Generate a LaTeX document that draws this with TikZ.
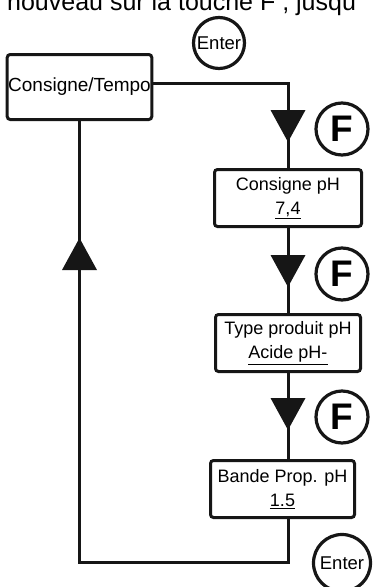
\documentclass[tikz,border=0pt]{standalone}
\usepackage{fontspec}
\setmainfont{Liberation Sans}
\usetikzlibrary{positioning,calc,backgrounds}
\definecolor{ink}{RGB}{22,22,22}
\tikzset{
  menu/.style={draw=ink,line width=3pt,rounded corners=3pt,fill=white,
    inner sep=1pt,align=center,font=\fontsize{18}{24}\selectfont},
  key/.style={draw=ink,line width=3.2pt,circle,fill=white,inner sep=0pt},
  wire/.style={draw=ink,line width=3pt},
  tridown/.pic={\fill[ink] (-17.5,-16) -- (17.5,-16) -- (0,16) -- cycle;},
  triup/.pic={\fill[ink] (-17.5,16) -- (17.5,16) -- (0,-16) -- cycle;},
}

\begin{document}
\begin{tikzpicture}[x=1pt,y=-1pt]
  \useasboundingbox (0,0) rectangle (374,587);
  \clip (0,0) rectangle (374,587);
  % running text line above
  \node[anchor=base west,inner sep=0pt,font=\fontsize{25}{30}\selectfont] (intro) at (7,10)
    {nouveau sur la touche F , jusqu'};
  % menu entries
  \node[menu,minimum width=144pt,minimum height=65pt,font=\fontsize{19}{24}\selectfont]
    (tempo) at (79.5,87) {Consigne/Tempo};
  \node[menu,minimum width=147pt,minimum height=57pt] (cph) at (288,198) {Consigne pH\\\underline{7,4}};
  \node[menu,minimum width=145pt,minimum height=57pt] (tprod) at (288,343) {Type produit pH\\\underline{Acide pH-}};
  \node[menu,minimum width=144pt,minimum height=57pt] (bprop) at (282.5,489) {Bande Prop. pH\\\underline{1.5}};
  % keys
  \node[key,minimum size=51pt,font=\fontsize{18.5}{20}\selectfont] (enterA) at (219,43) {Enter};
  \node[key,minimum size=57pt,font=\fontsize{18.5}{20}\selectfont] (enterB) at (342,563) {Enter};
  \foreach \n/\y in {fA/129,fB/274,fC/417}
    \node[key,minimum size=52pt,font=\fontsize{37}{40}\selectfont\bfseries] (\n) at (342,\y) {F};
  % flow
  \begin{scope}[on background layer]
    \draw[wire] ([yshift=4pt]tempo.east) -| (cph.north);
    \draw[wire] (cph.south) -- (tprod.north);
    \draw[wire] (tprod.south) -- (tprod.south |- bprop.north);
    \draw[wire] (cph.south |- bprop.south) -- ++(0,43) -| (tempo.south);
  \end{scope}
  \pic at (288,126) {tridown};
  \pic at (288,271) {tridown};
  \pic at (288,414) {tridown};
  \pic at (79.5,254) {triup};
\end{tikzpicture}
\end{document}
